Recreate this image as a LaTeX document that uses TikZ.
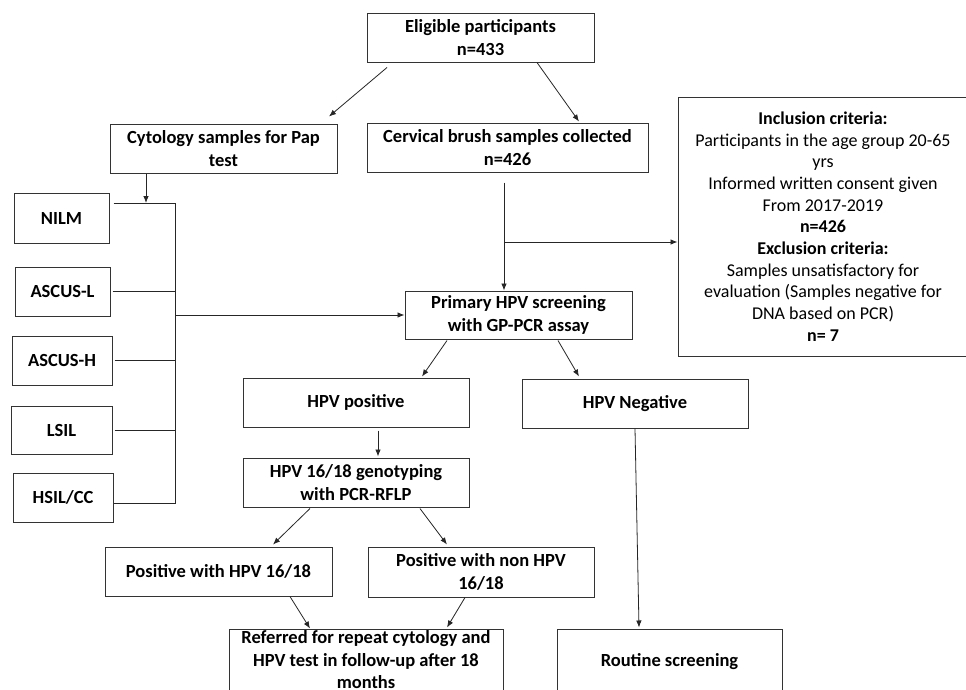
\documentclass[tikz,border=0pt]{standalone}
\usepackage{fontspec}
\setmainfont{Carlito}
\usetikzlibrary{arrows.meta, calc}

\begin{document}
\begin{tikzpicture}[x=1pt, y=-1pt,
  boite/.style 2 args={draw=black!80, line width=1pt, align=center, inner sep=0pt,
    minimum width=#1, minimum height=#2, font=\fontsize{18.5}{22.5}\selectfont\bfseries},
  fleche/.style={draw=black!85, line width=0.8pt, -{Latex[length=7pt, width=5.5pt]}},
  trait/.style={draw=black!85, line width=0.8pt}]
  \fill[white, use as bounding box] (0, 0) rectangle (966, 689);
  \clip (0, 0) rectangle (966, 689);

  % haut
  \node[boite={227pt}{49pt}] (elig) at (480.5, 37.5) {Eligible participants\\n=433};
  \node[boite={227pt}{49pt}] (cyto) at (223.5, 148.5) {Cytology samples for Pap\\test};
  \node[boite={281pt}{49pt}] (cerv) at (507.5, 147.5) {Cervical brush samples collected\\n=426};
  \node[boite={290pt}{259pt}, font=\fontsize{18}{21.7}\selectfont] (crit) at (823, 226.5)
    {\textbf{Inclusion criteria:}\\Participants in the age group 20-65\\yrs\\
     Informed written consent given\\From 2017-2019\\\textbf{n=426}\\
     \textbf{Exclusion criteria:}\\Samples unsatisfactory for\\
     evaluation (Samples negative for\\DNA based on PCR)\\\textbf{n= 7}};

  % cytologie
  \node[boite={95pt}{50pt}] (nilm) at (61.5, 218) {NILM};
  \node[boite={95pt}{49pt}] (ascl) at (62.5, 291.5) {ASCUS-L};
  \node[boite={100pt}{49pt}] (asch) at (62, 360.5) {ASCUS-H};
  \node[boite={101pt}{48pt}] (lsil) at (61.5, 430) {LSIL};
  \node[boite={100pt}{49pt}] (hsil) at (63, 497.5) {HSIL/CC};

  % HPV
  \node[boite={227pt}{48pt}] (prim) at (518.5, 315) {Primary HPV screening\\with GP-PCR assay};
  \node[boite={226pt}{49pt}] (hpvp) at (356, 402.5) {HPV positive};
  \node[boite={226pt}{49pt}] (hpvn) at (635, 403.5) {HPV Negative};
  \node[boite={226pt}{49pt}] (geno) at (356, 482.5) {HPV 16/18 genotyping\\with PCR-RFLP};
  \node[boite={227pt}{49pt}] (pos) at (218.5, 571.5) {Positive with HPV 16/18};
  \node[boite={226pt}{50pt}] (non) at (481, 572) {Positive with non HPV\\16/18};
  \node[boite={274pt}{62pt}] (ref) at (366, 660)
    {Referred for repeat cytology and\\HPV test in follow-up after 18\\months};
  \node[boite={225pt}{66pt}] (rout) at (669.5, 662) {Routine screening};

  % barre de la cytologie
  \coordinate (busH) at (175, 203);
  \coordinate (busB) at (175, 503);
  \coordinate (chute) at (146, 203);
  \draw[trait] ([xshift=4pt]nilm.east |- busH) -- (busH) -- (busB) -- (hsil.east |- busB);
  \foreach \n in {ascl, asch, lsil}
    \draw[trait] ([xshift=2pt]\n.east) -- (\n.east -| busH);
  \draw[fleche] (cyto.south -| chute) -- (chute);
  \draw[fleche] (busH |- prim.west) -- (prim.west);

  % échantillons
  \coordinate (fourche) at (504, 242);
  \draw[fleche] ($(cerv.south -| fourche)+(0, 10)$) -- (prim.north -| fourche);
  \draw[fleche] (fourche) -- (crit.west |- fourche);

  % flèches obliques
  \draw[fleche] ($(elig.south)+(-93.5, 5)$) -- ($(cyto.north)+(105.5, -7)$);
  \draw[fleche] ($(elig.south)+(56.5, 0)$) -- ($(cerv.north)+(71.5, -1)$);
  \draw[fleche] ($(prim.south)+(-71.5, 1)$) -- ($(hpvp.north)+(66, -1)$);
  \draw[fleche] ($(prim.south)+(39.5, 1)$) -- ($(hpvn.north)+(-56, -2)$);
  \draw[fleche] ($(hpvp.south)+(22, 3)$) -- ($(geno.north)+(22, -1)$);
  \draw[fleche] ($(geno.south)+(-46, 1)$) -- ($(pos.north)+(54.5, -2)$);
  \draw[fleche] ($(geno.south)+(64, 1)$) -- ($(non.north)+(-34, -2)$);
  \draw[fleche] ($(pos.south)+(71.5, 0)$) -- ($(ref.north)+(-56, 0)$);
  \draw[fleche] ($(non.south)+(-16, 0)$) -- ($(ref.north)+(81, -1)$);
  \draw[fleche] (hpvn.south) -- ($(rout.north)+(-30.5, -1)$);
\end{tikzpicture}
\end{document}
